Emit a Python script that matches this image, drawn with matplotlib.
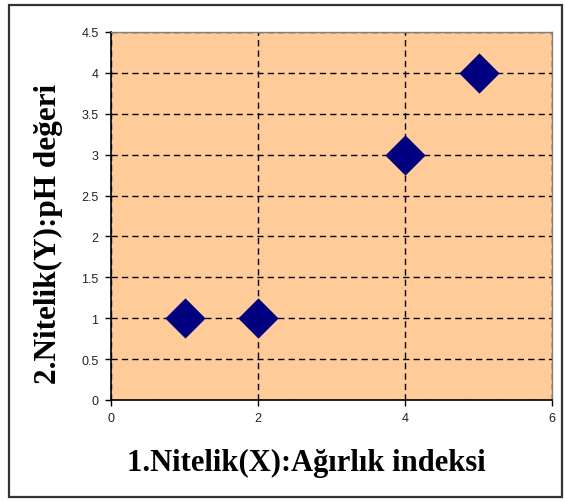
import matplotlib.pyplot as plt
from matplotlib.patches import Rectangle

# data
x_vals = [1, 2, 4, 5]
y_vals = [1, 1, 3, 4]
x_ticks = [0, 2, 4, 6]
y_ticks = [0, 0.5, 1, 1.5, 2, 2.5, 3, 3.5, 4, 4.5]
y_tick_labels = ['0', '0.5', '1', '1.5', '2', '2.5', '3', '3.5', '4', '4.5']

fig = plt.figure(figsize=(5.65, 5.02), dpi=100)
fig.patch.set_facecolor('white')

# outer chart border
fig.patches.append(Rectangle((9 / 565, 4 / 502), 553 / 565, 492 / 502,
                             transform=fig.transFigure, fill=False,
                             edgecolor='#333333', linewidth=1.6))

ax = fig.add_axes([111 / 565, 101 / 502, 441 / 565, 368 / 502])
ax.set_facecolor('#FFCC99')

ax.scatter(x_vals, y_vals, marker='D', s=20.5 ** 2, color='#000080',
           zorder=3, linewidths=0)

ax.set_xlim(0, 6)
ax.set_ylim(0, 4.5)
ax.set_xticks(x_ticks)
ax.set_yticks(y_ticks)
ax.set_xticklabels([str(t) for t in x_ticks])
ax.set_yticklabels(y_tick_labels)
ax.tick_params(direction='out', length=4, width=1, labelsize=9, pad=5)
for lbl in ax.get_xticklabels() + ax.get_yticklabels():
    lbl.set_fontfamily('Liberation Sans')
    lbl.set_color('#222222')
ax.grid(True, color='black', linestyle=(0, (4.5, 3)), linewidth=1)

for side in ['left', 'bottom']:
    ax.spines[side].set_linewidth(1.2)
for side in ['top', 'right']:
    ax.spines[side].set_color('#808080')
    ax.spines[side].set_linewidth(1)

fig.text(306 / 565, 1 - 463 / 502, '1.Nitelik(X):Ağırlık indeksi',
         fontfamily='Liberation Serif', fontweight='bold', fontsize=22,
         ha='center', va='center')
fig.text(48 / 565, 1 - 234 / 502, '2.Nitelik(Y):pH değeri',
         fontfamily='Liberation Serif', fontweight='bold', fontsize=22.5,
         ha='center', va='center', rotation=90)

fig.savefig('out.png', dpi=100)
